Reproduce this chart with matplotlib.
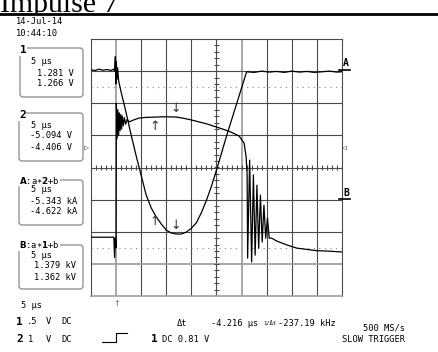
import matplotlib
matplotlib.use("Agg")
import numpy as np
import matplotlib.pyplot as plt
from matplotlib.patches import FancyBboxPatch
from matplotlib.transforms import Bbox

# time in microseconds (5 us/div, trigger at 0), amplitude in screen divisions
trace_a_t = [-5, -4.2, -3.4, -2.6, -1.8, -1.0, -0.5, -0.3, -0.15, -0.05, 0.05, 0.15, 0.3, 0.5,
             1, 2, 3, 4, 5, 6, 7, 8, 9, 10, 11, 12, 13, 14, 15, 16, 17, 18, 19, 20,
             21, 22, 23, 24, 25, 26, 27.5, 29, 30.5, 32, 33.5, 35, 36.5, 38, 39.5, 41, 42.5, 44, 45]
trace_a_v = [3.04, 3.02, 3.06, 3.03, 3.05, 3.02, 3.06, 3.0, 3.45, 2.6, 3.3, 2.75, 3.1, 2.7,
             2.35, 1.70, 1.01, 0.36, -0.25, -0.86, -1.26, -1.54, -1.76, -1.95, -2.04, -2.07, -2.07, -2.01,
             -1.89, -1.72, -1.40, -1.02, -0.58, -0.08,
             0.45, 0.98, 1.48, 1.98, 2.48, 2.98, 2.96, 3.0, 2.97, 2.99, 2.96, 3.0, 2.97, 2.99, 2.96, 2.98, 3.0, 2.97, 2.98]

trace_b_t = [-5, -2, -0.45, -0.3, -0.15, 0, 0.05, 0.2, 0.35, 0.5, 0.65, 0.8, 0.95, 1.1, 1.25, 1.45,
             1.65, 1.9, 2.2, 2.6, 3.5, 4.6, 6, 8, 10, 12, 13.5, 15, 16.5, 18, 20, 22.5, 24.5, 25.5,
             25.9, 26.1, 26.2, 26.6, 27.0, 27.35, 27.7, 28.05, 28.4, 28.75, 29.1, 29.45, 29.8, 30.15,
             30.5, 31, 32, 34, 36, 38, 40, 42, 45]
trace_b_v = [-2.17, -2.17, -2.17, -2.8, -2.2, -2.5, 2.0, 0.9, 1.8, 1.0, 1.7, 1.15, 1.65, 1.2, 1.6, 1.3,
             1.55, 1.35, 1.5, 1.42, 1.48, 1.54, 1.56, 1.57, 1.58, 1.57, 1.53, 1.48, 1.42, 1.36, 1.26, 1.13, 0.98, 0.76,
             0.33, -0.23, -2.82, 0.23, -2.94, -0.23, -2.73, -0.55, -2.51, -0.86, -2.32, -1.17, -2.2, -1.57,
             -2.2, -2.2, -2.29, -2.41, -2.51, -2.55, -2.59, -2.6, -2.63]

cursor_t = [7.6, 11.9]
cursor_a = [-1.42, -2.07]
cursor_b = [1.54, 1.57]
ground_levels = [2.5, -2.5]

W, H = 439, 352
mono = "DejaVu Sans Mono"
fs = 6.3
grid_c = "#4a4a4a"
light_c = "#a0a0a0"

fig = plt.figure(figsize=(W / 100, H / 100), dpi=100)

ov = fig.add_axes([0, 0, 1, 1], zorder=3)
ov.set_xlim(0, W)
ov.set_ylim(H, 0)
ov.axis("off")

ax = fig.add_axes([91 / W, (H - 296) / H, 251 / W, 257 / H], zorder=2)
ax.set_xlim(-5, 45)
ax.set_ylim(-4, 4)
ax.set_xticks([])
ax.set_yticks([])
for s in ax.spines.values():
    s.set_color(grid_c)
    s.set_linewidth(0.8)
ax.spines["bottom"].set_color(light_c)
ax.spines["bottom"].set_linewidth(1.2)

# graticule
for x in range(0, 45, 5):
    gray = x in (0, 25)
    ax.axvline(x, color=light_c if gray else grid_c, lw=1.3 if gray else 0.8, zorder=1)
for y in range(-3, 4):
    gray = y == -3
    ax.axhline(y, color=light_c if gray else grid_c, lw=1.3 if gray else 0.8, zorder=1)
ax.vlines(np.arange(-5, 45.1, 1), -0.07, 0.07, color=grid_c, lw=0.8, zorder=1)
ax.hlines(np.arange(-4, 4.01, 0.2), 19.6, 20.4, color=grid_c, lw=0.8, zorder=1)
for g in ground_levels:
    ax.axhline(g, color="#888888", lw=0.8, ls=(0, (1, 4)), zorder=1)

# traces
ax.plot(trace_a_t, trace_a_v, color="black", lw=0.9, zorder=3)
ax.plot(trace_b_t, trace_b_v, color="black", lw=0.9, zorder=3)

# cursors
ax.text(cursor_t[0], cursor_b[0] - 0.05, "↑", ha="center", va="top", fontsize=9, color="#333333")
ax.text(cursor_t[1], cursor_b[1] + 0.05, "↓", ha="center", va="bottom", fontsize=9, color="#333333")
ax.text(cursor_t[0], cursor_a[0] - 0.05, "↑", ha="center", va="top", fontsize=9, color="#333333")
ax.text(cursor_t[1], cursor_a[1] + 0.05, "↓", ha="center", va="bottom", fontsize=9, color="#333333")

# title (clipped at the rule like the screenshot)
title = ov.text(0, 12.5, "Impulse 7", fontfamily="Liberation Serif", fontsize=21.5,
                va="baseline", ha="left")
title.set_clip_box(Bbox.from_extents(0, H - 13, W, H))
title.set_clip_on(True)
ov.plot([0, W], [14, 14], color="black", lw=2)

def t(x, y, s, bold=False, size=fs, **kw):
    ov.text(x, y, s, fontfamily=mono, fontsize=size, va="center", ha=kw.pop("ha", "left"),
            fontweight="bold" if bold else "normal", **kw)

t(16, 22, "14-Jul-14")
t(16, 33, "10:44:10")

# measurement boxes
boxes = [(20, 48, 63, 49), (19, 113, 64, 48), (19, 180, 64, 45), (19, 245, 64, 44)]
for (x0, y0, w, h) in boxes:
    ov.add_patch(FancyBboxPatch((x0, y0), w, h, boxstyle="round,pad=0,rounding_size=3",
                                ec="#8a8a8a", fc="none", lw=0.9))

wb = dict(fc="white", ec="none", pad=0.4)
t(20, 50, "1", bold=True, size=8, bbox=wb)
t(31, 62, "5 μs")
t(37, 73, "1.281 V")
t(37, 84, "1.266 V")

t(19, 115, "2", bold=True, size=8, bbox=wb)
t(31, 125, "5 μs")
t(30, 136, "-5.094 V")
t(30, 147, "-4.406 V")

t(19, 180, r"$\mathbf{A}$:a∗$\mathbf{2}$+b", bbox=wb)
t(31, 190, "5 μs")
t(30, 201, "-5.343 kA")
t(30, 212, "-4.622 kA")

t(19, 245, r"$\mathbf{B}$:a∗$\mathbf{1}$+b", bbox=wb)
t(31, 256, "5 μs")
t(34, 266, "1.379 kV")
t(34, 277, "1.362 kV")

# trigger / reference markers
t(84, 147, "▷", size=6, color="#444444")
t(342, 147, "◁", size=6, color="#444444")
t(117, 303, "↑", size=8, color="#777777", ha="center")
t(343, 63, "A", bold=True, size=7)
ov.plot([339, 350], [70, 70], color="black", lw=1.2)
t(343, 193, "B", bold=True, size=7)
ov.plot([339, 350], [199, 199], color="black", lw=1.2)

# bottom status lines
t(21, 306, "5 μs")
t(16, 322, "1", bold=True, size=8)
t(27, 322, ".5")
t(46, 322, "V")
t(61, 322, "DC")
t(16, 339, "2", bold=True, size=8)
t(28, 339, "1")
t(46, 339, "V")
t(61, 339, "DC")
ov.plot([102, 116, 116, 127], [342, 342, 333, 333], color="black", lw=0.8)
t(151, 339, "1", bold=True, size=8)
t(162, 339, "DC 0.81 V")
t(177, 323, "Δt")
t(211, 323, "-4.216 μs")
t(263, 323, "1/Δt", size=4)
t(278, 323, "-237.19 kHz")
t(405, 328, "500 MS/s", ha="right")
t(405, 340, "SLOW TRIGGER", ha="right")

fig.savefig("out.png", dpi=100)
